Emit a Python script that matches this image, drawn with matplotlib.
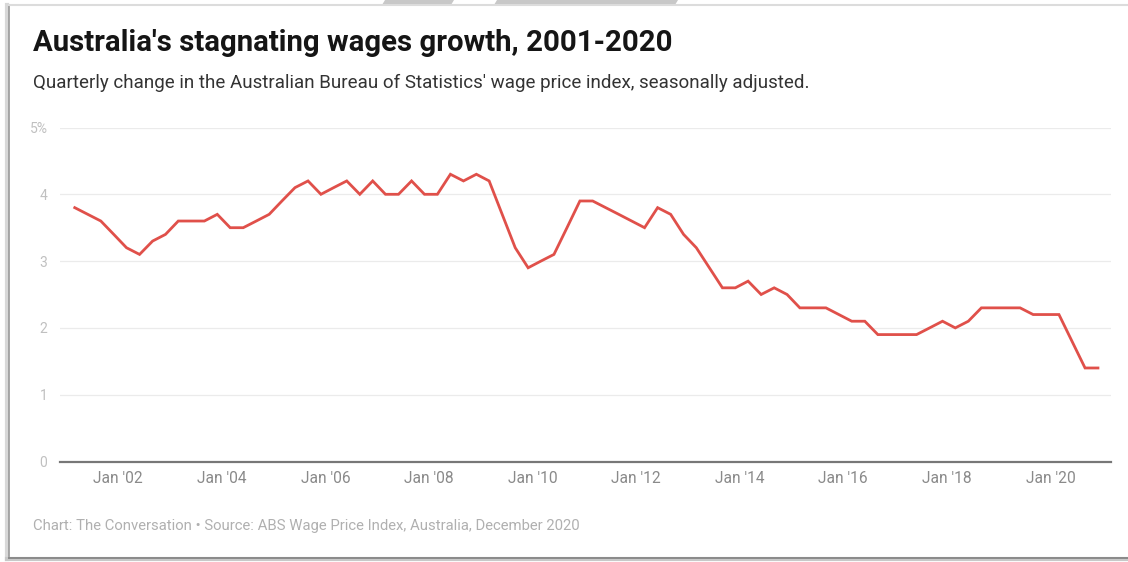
import matplotlib
matplotlib.use("Agg")
import matplotlib.pyplot as plt
from matplotlib.patches import Polygon
import datetime as dt

plt.rcParams['font.family'] = ['Roboto', 'DejaVu Sans']

# Quarterly data, Mar 2001 .. Dec 2020
start_year = 2001
wage_growth = [
    3.8, 3.7, 3.6, 3.4, 3.2, 3.1, 3.3, 3.4, 3.6, 3.6,
    3.6, 3.7, 3.5, 3.5, 3.6, 3.7, 3.9, 4.1, 4.2, 4.0,
    4.1, 4.2, 4.0, 4.2, 4.0, 4.0, 4.2, 4.0, 4.0, 4.3,
    4.2, 4.3, 4.2, 3.7, 3.2, 2.9, 3.0, 3.1, 3.5, 3.9,
    3.9, 3.8, 3.7, 3.6, 3.5, 3.8, 3.7, 3.4, 3.2, 2.9,
    2.6, 2.6, 2.7, 2.5, 2.6, 2.5, 2.3, 2.3, 2.3, 2.2,
    2.1, 2.1, 1.9, 1.9, 1.9, 1.9, 2.0, 2.1, 2.0, 2.1,
    2.3, 2.3, 2.3, 2.3, 2.2, 2.2, 2.2, 1.8, 1.4, 1.4,
]
dates = [dt.date(start_year + (i * 3 + 2) // 12, (i * 3 + 2) % 12 + 1, 1)
         for i in range(len(wage_growth))]

tick_years = list(range(2002, 2021, 2))
tick_labels = [f"Jan '{y % 100:02d}" for y in tick_years]
y_ticks = [0, 1, 2, 3, 4, 5]
y_tick_labels = ['0', '1', '2', '3', '4', '5%']

title = "Australia's stagnating wages growth, 2001-2020"
subtitle = "Quarterly change in the Australian Bureau of Statistics' wage price index, seasonally adjusted."
footer = "Chart: The Conversation \u2022 Source: ABS Wage Price Index, Australia, December 2020"

W, H = 1128, 562
fig = plt.figure(figsize=(W / 100, H / 100), dpi=100)
fig.patch.set_facecolor('white')

def fx(px):
    return px / W

def fy(py):
    return 1 - py / H

ax = fig.add_axes([fx(60), fy(461.5), fx(1111) - fx(60), fy(127.5) - fy(461.5)])
ax.plot(dates, wage_growth, color='#e0504a', lw=2.0, solid_joinstyle='miter', zorder=3)

ax.set_ylim(0, 5)
ax.set_xlim(dt.date(2000, 11, 17), dt.date(2021, 3, 3))
ax.set_yticks(y_ticks)
ax.set_yticklabels(y_tick_labels)
ax.set_xticks([dt.date(y, 1, 1) for y in tick_years])
ax.set_xticklabels(tick_labels)
ax.tick_params(axis='both', length=0)
ax.tick_params(axis='y', pad=9, labelsize=10, labelcolor='#c0c0c0')
ax.tick_params(axis='x', pad=7, labelsize=11.2, labelcolor='#8a8a8a')
for s in ['top', 'right', 'left']:
    ax.spines[s].set_visible(False)
ax.spines['bottom'].set_color('#777777')
ax.spines['bottom'].set_linewidth(1.6)
ax.grid(axis='y', color='#ebebeb', lw=0.9)
ax.grid(axis='x', visible=False)
ax.set_axisbelow(True)

fig.text(fx(33), fy(51), title, fontsize=21.2, fontweight='bold', color='#151515', va='baseline')
fig.text(fx(33), fy(88), subtitle, fontsize=13.5, color='#333333', va='baseline')
fig.text(fx(33), fy(530), footer, fontsize=10.7, color='#b0b0b0', va='baseline')

# card frame with shadow
frame_ax = fig.add_axes([0, 0, 1, 1], zorder=-1)
frame_ax.set_xlim(0, W)
frame_ax.set_ylim(H, 0)
frame_ax.axis('off')
frame_ax.plot([7, 7], [5, 559], color='#d8d8d8', lw=3)
frame_ax.plot([9, 9], [5, 558], color='#9a9a9a', lw=1.2)
frame_ax.plot([7, W], [559, 559], color='#c8c8c8', lw=3)
frame_ax.plot([9, W], [557.5, 557.5], color='#8a8a8a', lw=1.4)
frame_ax.plot([9, W], [5, 5], color='#dcdcdc', lw=1.5)
frame_ax.add_patch(Polygon([[382, 5], [451, 5], [454, 0], [385, 0]], closed=True,
                           facecolor='#c8c8c8', edgecolor='none'))
frame_ax.add_patch(Polygon([[494, 5], [675, 5], [678, 0], [497, 0]], closed=True,
                           facecolor='#c8c8c8', edgecolor='none'))

fig.savefig('out.png', dpi=100, facecolor='white')
